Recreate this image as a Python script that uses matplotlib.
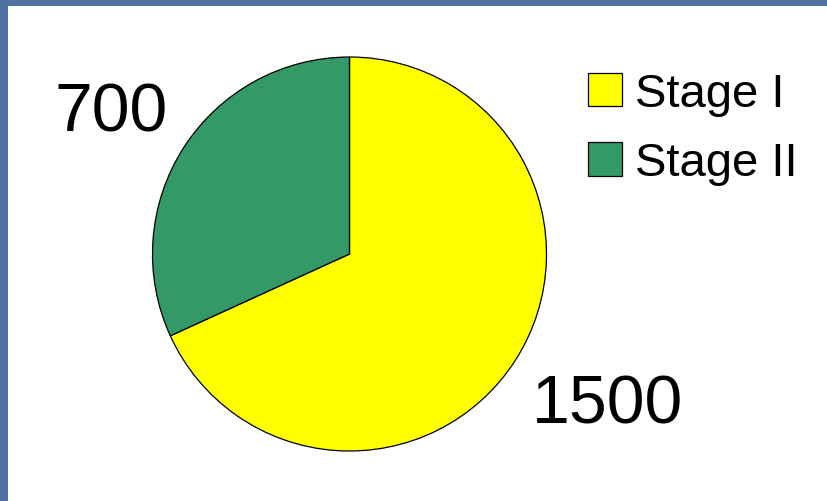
import matplotlib
matplotlib.use("Agg")
import matplotlib.pyplot as plt
from matplotlib.patches import Rectangle

plt.rcParams['font.family'] = ['Liberation Sans', 'DejaVu Sans']

# data
stages = ["Stage I", "Stage II"]
counts = [1500, 700]
colors = ["#ffff00", "#339966"]

W, H = 827, 502
fig = plt.figure(figsize=(W / 100, H / 100), dpi=100)
fig.patch.set_facecolor("#4e73a0")
# white slide area
fig.patches.append(Rectangle((8 / W, 0), 1, 1 - 7 / H, transform=fig.transFigure,
                             facecolor="white", edgecolor="none", zorder=-10))

# pie axes: centre (349.5, 255) px, radius 197 px
r = 197
ax = fig.add_axes([(349.5 - r) / W, (H - 255 - r) / H, 2 * r / W, 2 * r / H])
wedges, _ = ax.pie(counts, colors=colors, startangle=90, counterclock=False,
                   radius=1, wedgeprops=dict(edgecolor="black", linewidth=0.9))
ax.set_xlim(-1, 1)
ax.set_ylim(-1, 1)
ax.axis("off")

# value labels
ax.text(-1.21, 0.72, str(counts[1]), fontsize=49, ha="center", va="center")
ax.text(1.31, -0.765, str(counts[0]), fontsize=49, ha="center", va="center")

leg = fig.legend(wedges, stages, loc="upper left",
                 bbox_to_anchor=(588 / W, 1 - 73 / H), frameon=False,
                 fontsize=34, borderpad=0, borderaxespad=0,
                 handlelength=0.72, handleheight=0.72, handletextpad=0.28,
                 labelspacing=0.54)

fig.savefig("out.png", dpi=100, facecolor=fig.get_facecolor())
